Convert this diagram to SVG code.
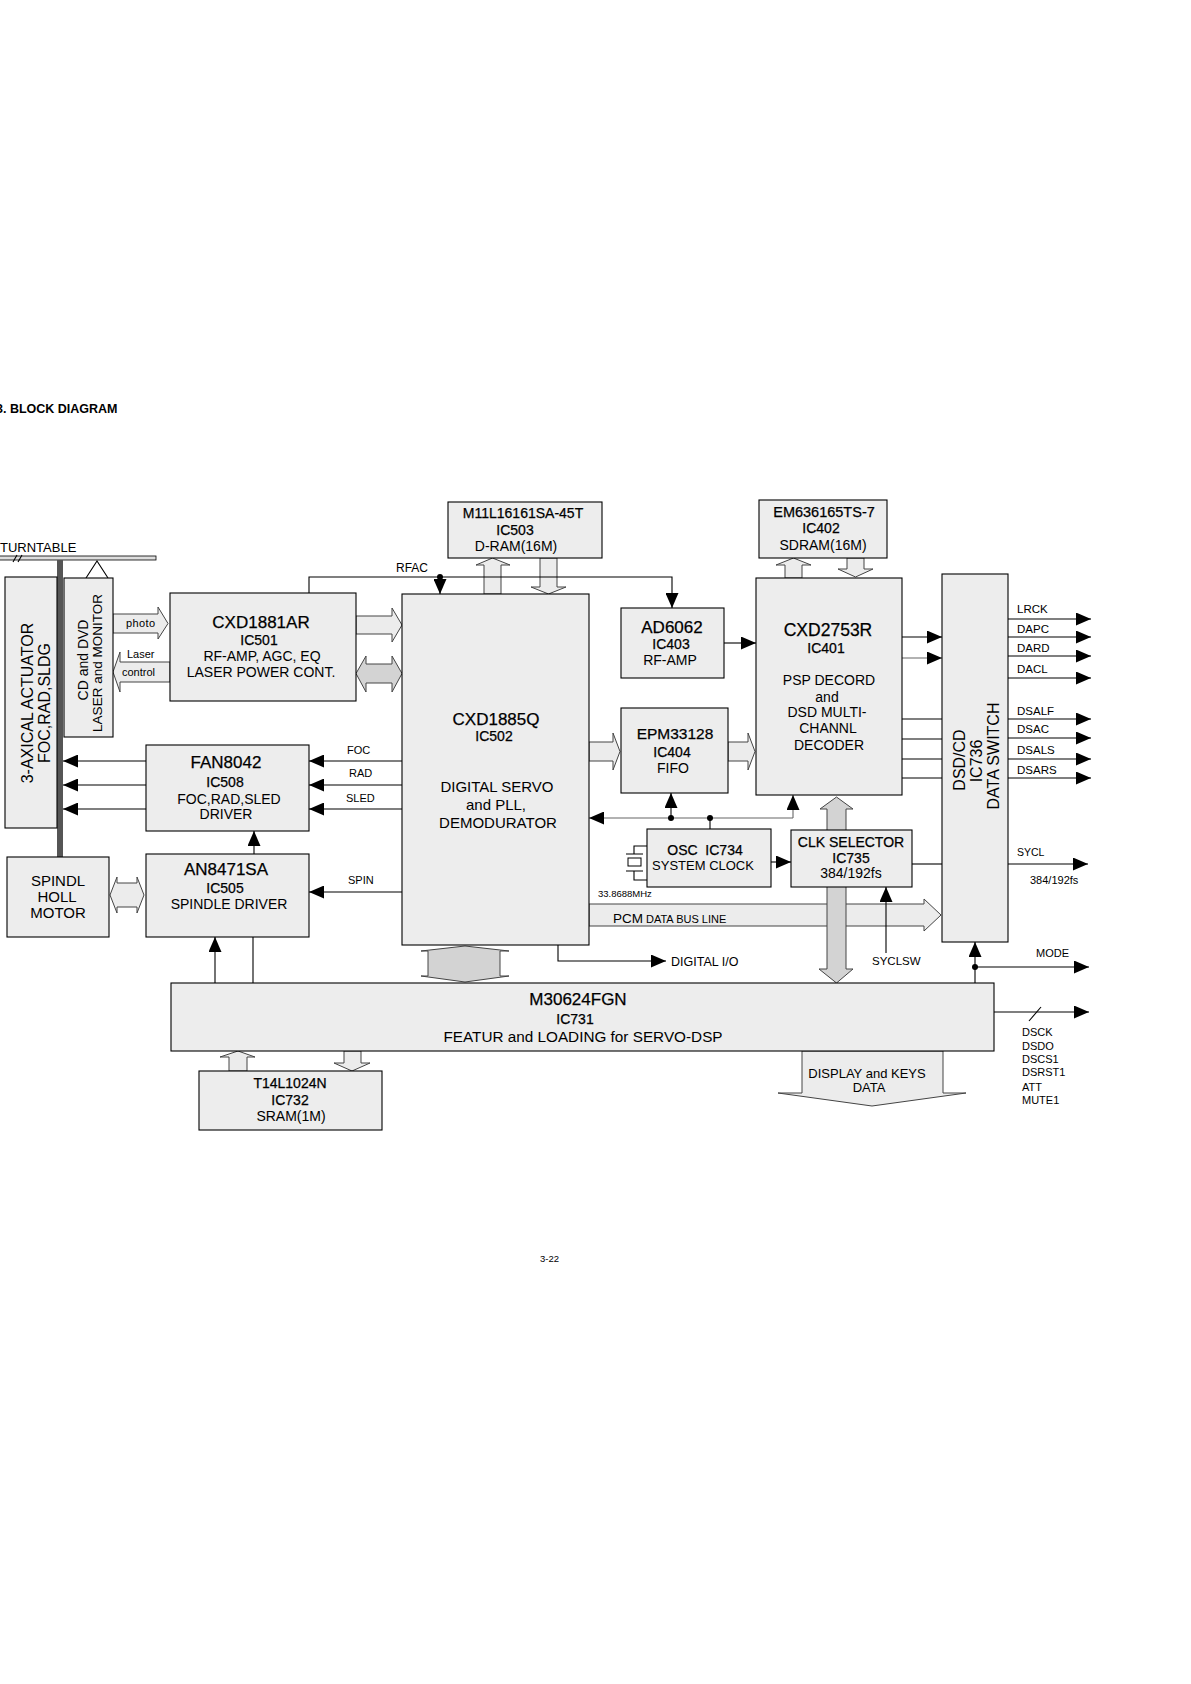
<svg xmlns="http://www.w3.org/2000/svg" width="1191" height="1684" viewBox="0 0 1191 1684">
<style>
text{font-family:"Liberation Sans",Arial,sans-serif;fill:#000}
.box{fill:#ededed;stroke:#000;stroke-width:1.1}
.ln{fill:none;stroke:#000;stroke-width:1.1}
.gl{fill:none;stroke:#666;stroke-width:1.1}
.ba{fill:#ececec;stroke:#444;stroke-width:1}
.bd{fill:#d3d3d3;stroke:#444;stroke-width:1}
.m{text-anchor:middle}
.sb{stroke:#000;stroke-width:0.25}
.f17{font-size:17px}.f15{font-size:15px}.f14{font-size:14px}.f13{font-size:13px}
.f12{font-size:12px}.f11{font-size:11px}.f10{font-size:10px}
</style>
<defs>
<marker id="ah" markerUnits="userSpaceOnUse" markerWidth="15" markerHeight="13" refX="15" refY="6.5" orient="auto">
<path d="M0,0 L15,6.5 L0,13 z" fill="#000"/>
</marker>
</defs>
<rect width="1191" height="1684" fill="#fff"/>

<text x="-4" y="413" font-size="12.5" font-weight="bold">3. BLOCK DIAGRAM</text>
<text x="540" y="1262" font-size="9.5">3-22</text>

<g id="connectors">
<!-- block arrows -->
<polygon class="ba" points="113,614 158,614 158,607 168,623.5 158,639 158,633 113,633"/>
<text x="126" y="627" class="f11" letter-spacing="0.4">photo</text>
<polygon class="ba" points="170,662 120,662 120,652 113,672 120,692 120,682 170,682"/>
<text x="127" y="658" class="f11">Laser</text>
<text x="122" y="676" class="f11">control</text>
<polygon class="ba" points="356,616 392,616 392,608 402,625 392,642 392,634 356,634"/>
<polygon class="bd" points="356,673.5 366,656 366,664 392,664 392,656 402,673.5 392,692 392,683 366,683 366,692"/>
<polygon class="ba" points="484,594 484,565 476,565 492.5,558 510,565 501,565 501,594"/>
<polygon class="ba" points="540,558 557,558 557,587 566,587 548.5,594 531,587 540,587"/>
<polygon class="ba" points="785,578 785,565 776,565 793.5,558 811,565 802,565 802,578"/>
<polygon class="ba" points="847,558 864,558 864,569 873,569 855.5,577 838,569 847,569"/>
<polygon class="ba" points="589,742 613,742 613,733 620,751.5 613,770 613,761 589,761"/>
<polygon class="ba" points="728,742 748,742 748,733 755,751.5 748,770 748,761 728,761"/>
<polygon class="ba" points="110,895 117,877 117,883 137,883 137,877 144,895 137,913 137,907 117,907 117,913" fill="#dcdcdc"/>
<polygon class="ba" points="589,904 924,904 924,899 941,915 924,931 924,926 589,926" fill="#e6e6e6"/>
<text x="613" y="923" font-size="13.5">PCM</text>
<text x="646" y="923" class="f11">DATA BUS LINE</text>
<polygon class="bd" points="836.5,797 853,809 846,809 846,969 853,969 836.5,983 819,969 827,969 827,809 820,809"/>
<polygon class="bd" points="465,946 509,951 500,951 500,976 509,976 465,982 421,976 428,976 428,951 421,951"/>
<polygon class="ba" points="229,1071 229,1057 220,1057 238,1051 255,1057 247,1057 247,1071"/>
<polygon class="ba" points="344,1051 361,1051 361,1063 370,1063 352,1071 334,1063 344,1063"/>
<polygon class="ba" points="802,1051 943,1051 943,1093 966,1093 872,1106 778,1093 802,1093"/>
<text class="m f13" x="867" y="1078">DISPLAY and KEYS</text>
<text class="m f13" x="869" y="1092">DATA</text>

<!-- RFAC -->
<path class="ln" d="M309,593 V577 H672 V608" marker-end="url(#ah)"/>
<path class="ln" d="M440,577 V594" marker-end="url(#ah)"/>
<circle cx="440" cy="577" r="3"/>
<text x="396" y="572" class="f12">RFAC</text>
<path class="ln" d="M724,643 H756" marker-end="url(#ah)"/>

<!-- CXD2753R to DSD/CD -->
<path class="ln" d="M902,637 H942" marker-end="url(#ah)"/>
<path class="gl" d="M902,658 H942" marker-end="url(#ah)"/>
<path class="ln" d="M902,719 H942 M902,739 H942 M902,759 H942 M902,778 H942"/>

<!-- outputs -->
<path class="ln" d="M1008,619 H1091" marker-end="url(#ah)"/>
<path class="ln" d="M1008,637 H1091" marker-end="url(#ah)"/>
<path class="ln" d="M1008,656 H1091" marker-end="url(#ah)"/>
<path class="ln" d="M1008,678 H1091" marker-end="url(#ah)"/>
<path class="ln" d="M1008,719 H1091" marker-end="url(#ah)"/>
<path class="ln" d="M1008,738 H1091" marker-end="url(#ah)"/>
<path class="ln" d="M1008,759 H1091" marker-end="url(#ah)"/>
<path class="ln" d="M1008,778 H1091" marker-end="url(#ah)"/>
<text x="1017" y="613" font-size="11.5">LRCK</text>
<text x="1017" y="633" font-size="11.5">DAPC</text>
<text x="1017" y="652" font-size="11.5">DARD</text>
<text x="1017" y="673" font-size="11.5">DACL</text>
<text x="1017" y="715" font-size="11.5">DSALF</text>
<text x="1017" y="733" font-size="11.5">DSAC</text>
<text x="1017" y="754" font-size="11.5">DSALS</text>
<text x="1017" y="774" font-size="11.5">DSARS</text>
<path class="ln" d="M912,864 H942"/>
<path class="ln" d="M1008,864 H1088" marker-end="url(#ah)"/>
<text x="1017" y="856" font-size="10.5">SYCL</text>
<text x="1030" y="884" font-size="11">384/192fs</text>

<!-- clock bus -->
<path class="gl" d="M793,818 H589" marker-end="url(#ah)"/>
<path class="gl" d="M793,818 V795" marker-end="url(#ah)"/>
<path class="ln" d="M671,818 V793" marker-end="url(#ah)"/>
<path class="ln" d="M710,818 V829"/>
<circle cx="671" cy="818" r="3"/>
<circle cx="710" cy="818" r="3"/>
<path class="ln" d="M771,862 H791" marker-end="url(#ah)"/>

<!-- SYCLSW -->
<path class="ln" d="M886,953 V887" marker-end="url(#ah)"/>
<text x="872" y="965" font-size="11.5">SYCLSW</text>

<!-- MODE -->
<path class="ln" d="M975,983 V942" marker-end="url(#ah)"/>
<path class="ln" d="M975,967 H1089" marker-end="url(#ah)"/>
<circle cx="975" cy="967" r="3"/>
<text x="1036" y="957" class="f11">MODE</text>

<!-- DSCK bus -->
<path class="ln" d="M994,1012 H1089" marker-end="url(#ah)"/>
<path class="ln" d="M1029,1021 L1041,1007"/>
<text x="1022" y="1036" class="f11">DSCK</text>
<text x="1022" y="1050" class="f11">DSDO</text>
<text x="1022" y="1063" class="f11">DSCS1</text>
<text x="1022" y="1076" class="f11">DSRST1</text>
<text x="1022" y="1091" class="f11">ATT</text>
<text x="1022" y="1104" class="f11">MUTE1</text>

<!-- DIGITAL I/O -->
<path class="ln" d="M558,945 V961 H666" marker-end="url(#ah)"/>
<text x="671" y="966" font-size="12.5">DIGITAL I/O</text>

<!-- FAN8042 -->
<path class="ln" d="M146,761 H63" marker-end="url(#ah)"/>
<path class="ln" d="M146,785 H63" marker-end="url(#ah)"/>
<path class="ln" d="M146,809 H63" marker-end="url(#ah)"/>
<path class="ln" d="M402,761 H309" marker-end="url(#ah)"/>
<path class="ln" d="M402,785 H309" marker-end="url(#ah)"/>
<path class="ln" d="M402,809 H309" marker-end="url(#ah)"/>
<text x="347" y="754" class="f11">FOC</text>
<text x="349" y="777" class="f11">RAD</text>
<text x="346" y="802" class="f11">SLED</text>
<path class="ln" d="M402,892 H309" marker-end="url(#ah)"/>
<text x="348" y="884" class="f11">SPIN</text>
<path class="ln" d="M254,854 V831" marker-end="url(#ah)"/>
<path class="ln" d="M215,983 V937" marker-end="url(#ah)"/>
<path class="ln" d="M253,937 V983"/>
</g>

<g id="turntable">
<text x="0" y="552" font-size="13">TURNTABLE</text>
<rect x="-1" y="556" width="157" height="4" fill="#ddd" stroke="#000" stroke-width="0.8"/>
<path class="ln" d="M13,562 L17,555 M18,562 L22,555" stroke-width="0.8"/>
<rect x="57" y="560" width="6" height="297" fill="#555"/>
</g>

<g id="actuator">
<rect class="box" x="5" y="577" width="52" height="251"/>
<text class="m" transform="translate(33,703) rotate(-90)" font-size="16">3-AXICAL ACTUATOR</text>
<text class="m" transform="translate(50,703) rotate(-90)" font-size="16">FOC,RAD,SLDG</text>
</g>

<g id="laser">
<path class="ln" d="M86,578 L97,561 L108,578"/>
<rect class="box" x="64" y="578" width="49" height="159"/>
<text class="m f14" transform="translate(88,660) rotate(-90)">CD and DVD</text>
<text class="m" transform="translate(102,663) rotate(-90)" font-size="13.5">LASER and MONITOR</text>
</g>

<g id="ic501">
<rect class="box" x="170" y="593" width="186" height="108"/>
<text class="m f17 sb" x="261" y="628">CXD1881AR</text>
<text class="m f14 sb" x="259" y="645">IC501</text>
<text class="m f14" x="262" y="661">RF-AMP, AGC, EQ</text>
<text class="m f14" x="261" y="677">LASER POWER CONT.</text>
</g>

<g id="ic503">
<rect class="box" x="448" y="502" width="154" height="56"/>
<text class="m f14 sb" x="523" y="518">M11L16161SA-45T</text>
<text class="m f14 sb" x="515" y="535">IC503</text>
<text class="m f14" x="516" y="551">D-RAM(16M)</text>
</g>

<g id="ic502">
<rect class="box" x="402" y="594" width="187" height="351"/>
<text class="m f17 sb" x="496" y="725">CXD1885Q</text>
<text class="m f14 sb" x="494" y="741">IC502</text>
<text class="m f15" x="497" y="792">DIGITAL SERVO</text>
<text class="m f15" x="496" y="810">and PLL,</text>
<text class="m f15" x="498" y="828">DEMODURATOR</text>
</g>

<g id="ic403">
<rect class="box" x="621" y="608" width="103" height="70"/>
<text class="m f17 sb" x="672" y="633">AD6062</text>
<text class="m f14 sb" x="671" y="649">IC403</text>
<text class="m f14" x="670" y="665">RF-AMP</text>
</g>

<g id="ic402">
<rect class="box" x="759" y="500" width="128" height="58"/>
<text class="m sb" x="824" y="517" font-size="14.5">EM636165TS-7</text>
<text class="m f14 sb" x="821" y="533">IC402</text>
<text class="m f14" x="823" y="550">SDRAM(16M)</text>
</g>

<g id="ic401">
<rect class="box" x="756" y="578" width="146" height="217"/>
<text class="m sb" x="828" y="636" font-size="17.5">CXD2753R</text>
<text class="m f14 sb" x="826" y="653">IC401</text>
<text class="m f14" x="829" y="685">PSP DECORD</text>
<text class="m f14" x="827" y="702">and</text>
<text class="m f14" x="827" y="717">DSD MULTI-</text>
<text class="m f14" x="828" y="733">CHANNL</text>
<text class="m f14" x="829" y="750">DECODER</text>
</g>

<g id="ic404">
<rect class="box" x="621" y="708" width="107" height="85"/>
<text class="m sb" x="675" y="739" font-size="15.5">EPM33128</text>
<text class="m f14 sb" x="672" y="757">IC404</text>
<text class="m f14" x="673" y="773">FIFO</text>
</g>

<g id="ic736">
<rect class="box" x="942" y="574" width="66" height="368"/>
<text class="m" transform="translate(965,760) rotate(-90)" font-size="16">DSD/CD</text>
<text class="m" transform="translate(982,761) rotate(-90)" font-size="16">IC736</text>
<text class="m" transform="translate(999,756) rotate(-90)" font-size="16">DATA SWITCH</text>
</g>

<g id="ic508">
<rect class="box" x="146" y="745" width="163" height="86"/>
<text class="m f17 sb" x="226" y="768">FAN8042</text>
<text class="m f14 sb" x="225" y="787">IC508</text>
<text class="m f14" x="229" y="804">FOC,RAD,SLED</text>
<text class="m f14" x="226" y="819">DRIVER</text>
</g>

<g id="ic505">
<rect class="box" x="146" y="854" width="163" height="83"/>
<text class="m f17 sb" x="226" y="875">AN8471SA</text>
<text class="m f14 sb" x="225" y="893">IC505</text>
<text class="m f14" x="229" y="909">SPINDLE DRIVER</text>
</g>

<g id="spindle">
<rect class="box" x="7" y="857" width="102" height="80"/>
<text class="m f15" x="58" y="886">SPINDL</text>
<text class="m f15" x="57" y="902">HOLL</text>
<text class="m f15" x="58" y="918">MOTOR</text>
</g>

<g id="ic734">
<rect class="box" x="647" y="829" width="124" height="58"/>
<text class="m f14 sb" x="705" y="855" xml:space="preserve">OSC  IC734</text>
<text class="m f13" x="703" y="870">SYSTEM CLOCK</text>
<path class="ln" d="M647,846 H634 V854 M626,854 H643 M626,871 H643 M634,871 V880 H647"/>
<rect x="628" y="858" width="13" height="8" fill="#fff" stroke="#000" stroke-width="1"/>
<text x="598" y="897" font-size="9.5">33.8688MHz</text>
</g>

<g id="ic735">
<rect class="box" x="791" y="830" width="121" height="57"/>
<text class="m f14 sb" x="851" y="847">CLK SELECTOR</text>
<text class="m f14 sb" x="851" y="863">IC735</text>
<text class="m f14" x="851" y="878">384/192fs</text>
</g>

<g id="ic731">
<rect class="box" x="171" y="983" width="823" height="68"/>
<text class="m f17 sb" x="578" y="1005">M30624FGN</text>
<text class="m f14 sb" x="575" y="1024">IC731</text>
<text class="m" x="583" y="1042" font-size="15.3">FEATUR and LOADING for SERVO-DSP</text>
</g>

<g id="ic732">
<rect class="box" x="199" y="1071" width="183" height="59"/>
<text class="m f14 sb" x="290" y="1088">T14L1024N</text>
<text class="m f14 sb" x="290" y="1105">IC732</text>
<text class="m f14" x="291" y="1121">SRAM(1M)</text>
</g>
</svg>
